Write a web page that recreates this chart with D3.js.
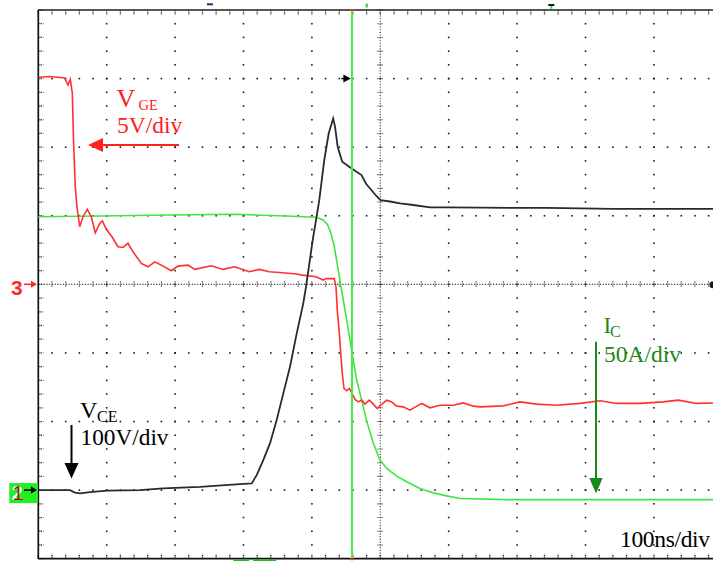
<!DOCTYPE html>
<html><head><meta charset="utf-8">
<script src="https://cdn.jsdelivr.net/npm/d3@7"></script>
<style>html,body{margin:0;padding:0;background:#fff;overflow:hidden}</style>
</head><body><svg id="c" width="713" height="561"></svg>
<script>
// ---------- data (time in ns, 100 ns/div) ----------
const majorTimes = d3.range(0, 1001, 100);       // vertical grid lines
const minorTimes = d3.range(0, 1001, 20);
const majorDivs = d3.range(-4, 5, 1);             // horizontal grid lines (divisions)
const minorDivs = d3.range(-4, 4.001, 0.2);

// V_GE (channel 3, 5 V/div, ground at centre)
const vgeT = [0,17,38.6,43.4,46.8,49.7,51.8,54.1,56.6,60.5,65.4,71.6,77.5,83.3,89.8,93.6,99.4,107.7,116.5,123.8,131.1,138.5,150.6,160.4,170.2,179.8,194.4,204.2,218.9,228.7,252.9,270,287.1,308.5,323.1,337.7,357.3,376.8,386.5,406,416.7,420.6,432.7,435.2,437.1,440.1,442.1,444.4,446.9,450.9,454.7,458.2,463,467.8,472.8,477.6,483.9,489.8,495.6,500.6,509.4,516.7,524,533.6,543.4,560.5,572.7,587.3,606.7,621.3,636,645.8,679.8,704.2,728.7,757.9,792,821.2,845.6,879.7,913.7,935.7,962.6,1000];
const vgeV = [15.1,15.15,15.04,14.53,14.95,13.95,10.01,7.09,5.63,4.2,4.93,5.47,4.93,3.76,4.44,4.63,4.01,3.47,2.74,2.69,2.99,2.37,1.53,1.28,1.64,1.4,0.99,1.33,1.4,1.09,1.35,1.09,1.28,0.92,1.09,0.92,0.84,0.75,0.67,0.55,0.31,0.43,0.42,-0.18,-1.88,-3.56,-5.01,-6.49,-7.59,-7.76,-7.59,-7.91,-8.39,-8.57,-8.44,-8.73,-8.44,-8.73,-9.05,-8.81,-8.44,-8.57,-8.88,-8.93,-9.17,-8.68,-9,-8.81,-8.81,-8.64,-8.88,-8.93,-8.86,-8.57,-8.73,-8.81,-8.68,-8.49,-8.68,-8.68,-8.57,-8.44,-8.68,-8.64];

// V_CE (channel 1, 100 V/div, ground 3 div below centre)
const vceT = [0,46.3,53.7,61,75.6,100.4,148.7,182.3,236.4,294.9,312,319.3,328.9,338.7,348.5,358.2,368,377.8,387.4,391.4,401.2,410.8,418.1,424.6,431.1,433.8,437.7,444.3,457.6,472.5,479.5,494.3,500.3,514.2,528.8,548.2,572.7,597.1,645.8,743.3,840.6,1000];
const vceV = [0,0,-3.6,-4.8,-2.9,-0.7,0,2.5,4.8,8.8,9.8,21.9,43.8,68.1,102.1,141,179.8,228.6,272.3,296.5,364.6,422.9,481.3,520.3,541.9,529.9,500.7,478.9,469.2,459.4,446.3,428.8,422.9,420.8,418.2,415.7,412.3,412.3,411.8,411.4,409.9,409.9];

// I_C (channel 2, 50 A/div, ground 3 div below centre)
const icT = [0,90.2,164.8,287.1,362.1,406,416.7,423.1,427.9,432.7,437.7,442.5,445.9,450.9,455.7,460.5,465.5,472.8,480.1,489.8,499.6,509.4,524,538.6,558,577.5,597.1,616.5,684.8,1000];
const icA = [199.3,199.8,200.4,201.1,199.8,198.9,196.9,193.3,187.2,177.4,162.9,148.3,138.6,124,109.4,94.8,80.2,65.6,50.3,34.1,21.9,15.8,10.2,6.1,1.2,-2,-4.2,-6.1,-6.9,-6.9];

const cursorTime = 458.6;
const triggerTime = 750;

// ---------- layout ----------
const svg = d3.select("#c");
const L = 38.3, R = 722.3, T = 10, B = 558.7;
const x = d3.scaleLinear().domain([0, 1000]).range([L, R]);
const yDiv = d3.scaleLinear().domain([-4, 4]).range([B, T]);
const yVGE = d3.scaleLinear().domain([-20, 20]).range([B, T]);
const yVCE = d3.scaleLinear().domain([-100, 700]).range([B, T]);
const yIC  = d3.scaleLinear().domain([-50, 350]).range([B, T]);

const gridCol = "#1a1a1a";
const g = svg.append("g");

// dotted major grid lines
majorTimes.filter(t => t > 0 && t < 1000 && t !== 500).forEach(t => {
  minorDivs.filter(d => d > -4 && d < 4).forEach(d => {
    g.append("rect").attr("x", x(t) - 0.8).attr("y", yDiv(d) - 0.8).attr("width", 1.6).attr("height", 1.6).attr("fill", gridCol);
  });
});
majorDivs.filter(d => d > -4 && d < 4 && d !== 0).forEach(d => {
  minorTimes.filter(t => t > 0 && t < 1000).forEach(t => {
    g.append("rect").attr("x", x(t) - 0.8).attr("y", yDiv(d) - 0.8).attr("width", 1.6).attr("height", 1.6).attr("fill", gridCol);
  });
});
// centre lines (dense dotted with ticks)
g.append("line").attr("x1", L).attr("x2", R).attr("y1", yDiv(0)).attr("y2", yDiv(0))
  .attr("stroke", "#333").attr("stroke-width", 1.1).attr("stroke-dasharray", "1.1,1.64");
g.append("line").attr("x1", x(500)).attr("x2", x(500)).attr("y1", T).attr("y2", B)
  .attr("stroke", "#333").attr("stroke-width", 1.1).attr("stroke-dasharray", "1.1,1.64");
minorTimes.forEach(t => {
  g.append("line").attr("x1", x(t)).attr("x2", x(t)).attr("y1", yDiv(0) - 3).attr("y2", yDiv(0) + 3)
    .attr("stroke", "#333").attr("stroke-width", 1.1).attr("stroke-dasharray", "1.1,1");
});
minorDivs.forEach(d => {
  g.append("line").attr("x1", x(500) - 3).attr("x2", x(500) + 3).attr("y1", yDiv(d)).attr("y2", yDiv(d))
    .attr("stroke", "#333").attr("stroke-width", 1.1).attr("stroke-dasharray", "1.1,1");
});
// border ticks
minorTimes.forEach(t => {
  g.append("line").attr("x1", x(t)).attr("x2", x(t)).attr("y1", T).attr("y2", T + 5)
    .attr("stroke", gridCol).attr("stroke-width", 1.3).attr("stroke-dasharray", "1.3,1");
  g.append("line").attr("x1", x(t)).attr("x2", x(t)).attr("y1", B).attr("y2", B - 5)
    .attr("stroke", gridCol).attr("stroke-width", 1.3).attr("stroke-dasharray", "1.3,1");
});
minorDivs.forEach(d => {
  g.append("line").attr("x1", L).attr("x2", L + 5).attr("y1", yDiv(d)).attr("y2", yDiv(d))
    .attr("stroke", gridCol).attr("stroke-width", 1.3).attr("stroke-dasharray", "1.3,1");
});
// borders
g.append("line").attr("x1", L).attr("x2", L).attr("y1", T).attr("y2", B).attr("stroke", "#111").attr("stroke-width", 1.7);
g.append("line").attr("x1", L).attr("x2", R).attr("y1", T).attr("y2", T).attr("stroke", "#222").attr("stroke-width", 1.5);
g.append("line").attr("x1", L).attr("x2", R).attr("y1", B).attr("y2", B).attr("stroke", "#111").attr("stroke-width", 1.7);

// ---------- traces ----------
const line = (ys) => d3.line().x(d => x(d[0])).y(d => ys(d[1]));
svg.append("path").datum(d3.zip(icT, icA)).attr("d", line(yIC))
  .attr("fill", "none").attr("stroke", "#3fe63f").attr("stroke-width", 1.6);
svg.append("path").datum(d3.zip(vgeT, vgeV)).attr("d", line(yVGE))
  .attr("fill", "none").attr("stroke", "#ff3030").attr("stroke-width", 1.6);
svg.append("path").datum(d3.zip(vceT, vceV)).attr("d", line(yVCE))
  .attr("fill", "none").attr("stroke", "#2a2a2a").attr("stroke-width", 1.8);

// cursor
svg.append("line").attr("x1", x(cursorTime)).attr("x2", x(cursorTime)).attr("y1", T).attr("y2", B)
  .attr("stroke", "#48ea48").attr("stroke-width", 2);
svg.append("rect").attr("x", x(cursorTime) - 1.5).attr("y", T - 1).attr("width", 3).attr("height", 2).attr("fill", "#e33");
svg.append("rect").attr("x", x(cursorTime) - 1.5).attr("y", B - 0.5).attr("width", 3).attr("height", 2).attr("fill", "#e33");

// top markers
svg.append("rect").attr("x", x(251) - 3).attr("y", 3.3).attr("width", 6).attr("height", 2).attr("fill", "#223366");
svg.append("rect").attr("x", x(480) - 1).attr("y", 3.5).attr("width", 2.3).attr("height", 4).attr("fill", "#3ddd3d");
svg.append("rect").attr("x", x(triggerTime) - 3).attr("y", 4).attr("width", 6).attr("height", 2).attr("fill", "#111");
svg.append("rect").attr("x", x(triggerTime) - 1).attr("y", 5.8).attr("width", 2).attr("height", 3).attr("fill", "#3ddd3d");
// bottom markers
svg.append("rect").attr("x", x(285)).attr("y", 559.5).attr("width", x(308) - x(285)).attr("height", 2).attr("fill", "#22bb22");
svg.append("rect").attr("x", x(314)).attr("y", 559.5).attr("width", x(348) - x(314)).attr("height", 2).attr("fill", "#22bb22");

// trigger level arrow
const trigY = yDiv(3);
svg.append("line").attr("x1", x(443)).attr("x2", x(449)).attr("y1", trigY).attr("y2", trigY).attr("stroke", "#000").attr("stroke-width", 1.5);
svg.append("path").attr("d", `M${x(446)},${trigY - 4}L${x(457)},${trigY}L${x(446)},${trigY + 4}Z`).attr("fill", "#000");

// right edge marker
svg.append("circle").attr("cx", 713).attr("cy", yDiv(0) + 0.5).attr("r", 3.5).attr("fill", "#301010");

// channel markers
svg.append("text").attr("x", 11).attr("y", 294.5).attr("font-family", "Liberation Sans, Arial, sans-serif")
  .attr("font-weight", "bold").attr("font-size", 21).attr("fill", "#ff2a2a").text("3");
svg.append("line").attr("x1", 24).attr("x2", 33).attr("y1", yDiv(0)).attr("y2", yDiv(0)).attr("stroke", "#ff2a2a").attr("stroke-width", 1.6);
svg.append("path").attr("d", `M31,${yDiv(0) - 3.5}L37,${yDiv(0)}L31,${yDiv(0) + 3.5}Z`).attr("fill", "#ff2a2a");

const g1 = yDiv(-3);
svg.append("rect").attr("x", 9.3).attr("y", g1 - 7).attr("width", 28.4).attr("height", 20).attr("fill", "#22ee22");
svg.append("text").attr("x", 11.5).attr("y", g1 + 10).attr("font-family", "Liberation Sans, Arial, sans-serif")
  .attr("font-weight", "bold").attr("font-size", 20).attr("fill", "#ffffff").text("2");
svg.append("text").attr("x", 12.5).attr("y", g1 + 10).attr("font-family", "Liberation Sans, Arial, sans-serif")
  .attr("font-size", 20).attr("fill", "#8a1a1a").text("1");
svg.append("line").attr("x1", 24).attr("x2", 33).attr("y1", g1).attr("y2", g1).attr("stroke", "#000").attr("stroke-width", 1.6);
svg.append("path").attr("d", `M31,${g1 - 3.5}L37,${g1}L31,${g1 + 3.5}Z`).attr("fill", "#000");

// ---------- annotations ----------
const serif = "Liberation Serif, Times New Roman, serif";
function label(xp, yp, txt, size, col) {
  return svg.append("text").attr("x", xp).attr("y", yp).attr("font-family", serif).attr("font-size", size).attr("fill", col).text(txt);
}
// V_GE
label(116.5, 106.5, "V", 26, "#ff2020");
label(138.5, 109.5, "GE", 14.5, "#ff2020");
label(117, 132.7, "5V/div", 23.5, "#ff2020");
svg.append("line").attr("x1", 179).attr("x2", 100).attr("y1", 145).attr("y2", 145).attr("stroke", "#ff2020").attr("stroke-width", 2.2);
svg.append("path").attr("d", "M88,145L103,138L103,152Z").attr("fill", "#ff2020");

// V_CE
label(80, 418.3, "V", 24, "#000");
label(97, 421.7, "CE", 16, "#000");
label(80.5, 445, "100V/div", 23.3, "#000");
svg.append("line").attr("x1", 71.5).attr("x2", 71.5).attr("y1", 425).attr("y2", 465).attr("stroke", "#000").attr("stroke-width", 2);
svg.append("path").attr("d", "M71.5,478.5L64.5,463L78.5,463Z").attr("fill", "#000");

// I_C
label(603.5, 333.3, "I", 23, "#1a8a1a");
label(610, 336.7, "C", 16, "#1a8a1a");
label(604, 361.5, "50A/div", 23.5, "#1a8a1a");
svg.append("line").attr("x1", 596).attr("x2", 596).attr("y1", 341.7).attr("y2", 480).attr("stroke", "#1a8a1a").attr("stroke-width", 2);
svg.append("path").attr("d", "M596,493.5L589.3,478L602.7,478Z").attr("fill", "#1a8a1a");

// time base
label(620, 546.5, "100ns/div", 23.5, "#000").attr("textLength", 90).attr("lengthAdjust", "spacing");
</script>
</body></html>
